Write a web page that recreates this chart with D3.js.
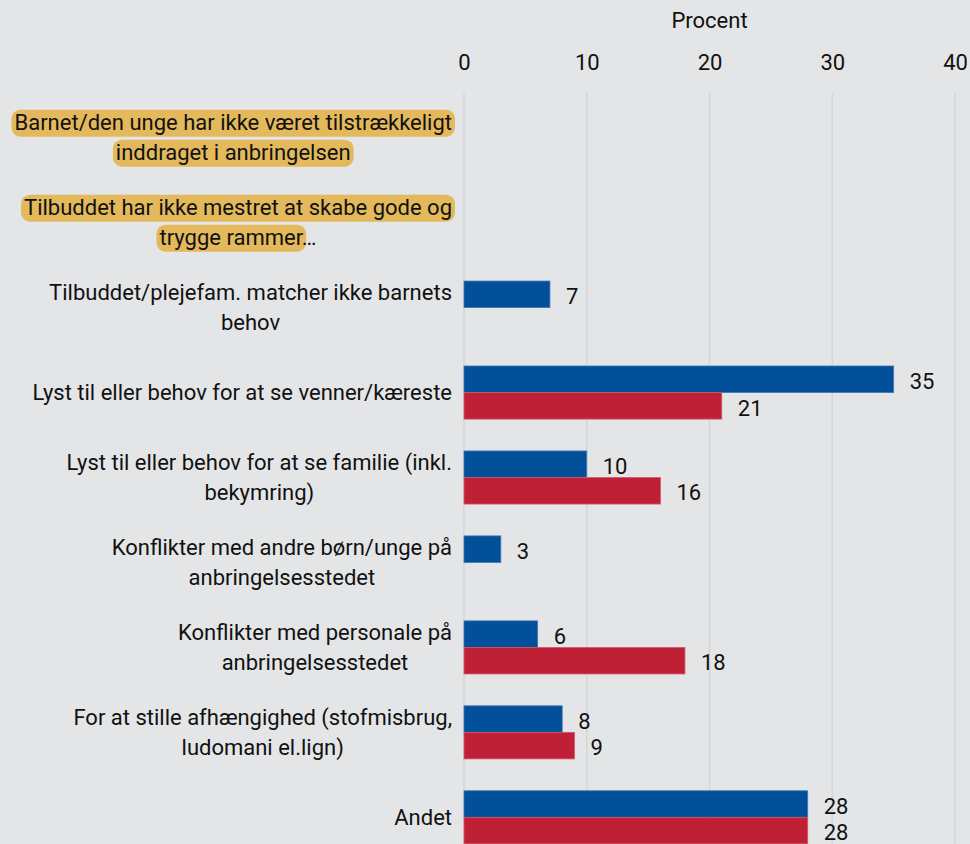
<!DOCTYPE html>
<html>
<head>
<meta charset="utf-8">
<style>
  body { margin: 0; background: #e4e5e7; }
  svg { display: block; font-family: Roboto, sans-serif; }
</style>
</head>
<body>
<svg width="970" height="844"></svg>
<script src="https://d3js.org/d3.v7.min.js"></script>
<script>

// data
const categories = [
  ["Barnet/den unge har ikke været tilstrækkeligt", "inddraget i anbringelsen"],
  ["Tilbuddet har ikke mestret at skabe gode og", "trygge rammer"],
  ["Tilbuddet/plejefam. matcher ikke barnets", "behov"],
  ["Lyst til eller behov for at se venner/kæreste"],
  ["Lyst til eller behov for at se familie (inkl.", "bekymring)"],
  ["Konflikter med andre børn/unge på", "anbringelsesstedet"],
  ["Konflikter med personale på", "anbringelsesstedet"],
  ["For at stille afhængighed (stofmisbrug,", "ludomani el.lign)"],
  ["Andet"]
];
const highlighted = [true, true, false, false, false, false, false, false, false];
const blueValues = [null, null, 7, 35, 10, 3, 6, 8, 28];
const redValues  = [null, null, null, 21, 16, null, 18, 9, 28];
const xTicks = [0, 10, 20, 30, 40];
const axisTitle = "Procent";

const svg = d3.select("svg"),
    width = +svg.attr("width"),
    height = +svg.attr("height");

const labelRight = 452;
const fontSize = 22;

const x = d3.scaleLinear().domain([0, 40]).range([464, 955]);
const y = d3.scaleBand().domain(d3.range(categories.length)).range([95, 860]).paddingInner(0.375).paddingOuter(0.19);
const barH = y.bandwidth() / 2;

// gridlines
svg.append("g").selectAll("line")
  .data(xTicks)
  .enter().append("line")
  .attr("x1", d => x(d)).attr("x2", d => x(d))
  .attr("y1", 93).attr("y2", height)
  .attr("stroke", "#d4d6d9")
  .attr("stroke-width", 1.5);

// top axis
const axis = svg.append("g")
  .attr("transform", "translate(0,70)")
  .call(d3.axisTop(x).tickValues(xTicks).tickSize(0).tickPadding(0));
axis.select(".domain").remove();
axis.selectAll("text")
  .attr("font-family", "Roboto, sans-serif")
  .attr("font-size", fontSize)
  .attr("fill", "#111");

svg.append("text")
  .attr("x", x(20)).attr("y", 28)
  .attr("text-anchor", "middle")
  .attr("font-size", fontSize)
  .attr("fill", "#111")
  .text(axisTitle);

// category labels
const lineH = 30;
const labels = svg.append("g");
categories.forEach(function(lines, i) {
  const g = labels.append("g");
  const cy = y(i) + y.bandwidth() / 2;
  const top = cy - (lines.length - 1) * lineH / 2;
  const texts = lines.map(function(l, j) {
    return g.append("text")
      .attr("y", top + j * lineH)
      .attr("dy", "0.35em")
      .attr("text-anchor", "middle")
      .attr("font-size", fontSize)
      .attr("fill", "#111")
      .text(l);
  });
  const widths = texts.map(t => t.node().getComputedTextLength());
  const maxW = d3.max(widths);
  const cx = labelRight - maxW / 2;
  if (i === 1) {
    // trailing ellipsis outside highlight
    texts[texts.length - 1].append("tspan").text("…");
  }
  texts.forEach(function(t, j) {
    t.attr("x", cx);
    if (highlighted[i]) {
      const w = widths[j];
      const fullW = t.node().getComputedTextLength();
      const left = cx - fullW / 2;
      g.insert("rect", "text")
        .attr("x", left - 3)
        .attr("y", top + j * lineH - 13)
        .attr("width", w + 6)
        .attr("height", 27)
        .attr("rx", 9)
        .attr("fill", "#e3b95c");
    }
  });
});

// bars
const series = [
  {values: blueValues, color: "#024f9a", stroke: "#3f78b4", off: 0},
  {values: redValues, color: "#c02035", stroke: "#d5576a", off: 1}
];
series.forEach(function(s) {
  const data = s.values.map((v, i) => ({v: v, i: i})).filter(d => d.v !== null);
  svg.append("g").selectAll("rect")
    .data(data)
    .enter().append("rect")
    .attr("x", x(0))
    .attr("y", d => y(d.i) + s.off * barH)
    .attr("width", d => x(d.v) - x(0))
    .attr("height", barH)
    .attr("fill", s.color)
    .attr("stroke", s.stroke)
    .attr("stroke-width", 0.8);
  svg.append("g").selectAll("text")
    .data(data)
    .enter().append("text")
    .attr("x", d => x(d.v) + 16)
    .attr("y", d => y(d.i) + s.off * barH + barH / 2 + 2)
    .attr("dy", "0.35em")
    .attr("font-size", fontSize)
    .attr("fill", "#111")
    .text(d => d.v);
});

</script>
</body>
</html>
